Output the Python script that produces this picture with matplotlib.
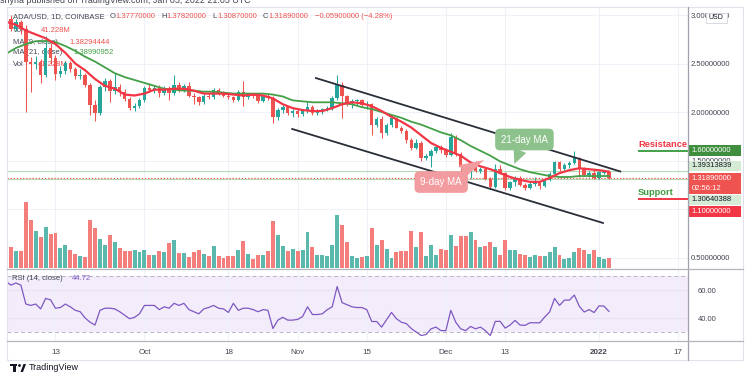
import numpy as np
import pandas as pd
import matplotlib
matplotlib.use("Agg")
import matplotlib.pyplot as plt
from matplotlib.patches import Rectangle, Polygon, Circle

plt.rcParams['font.family'] = ['Liberation Sans', 'DejaVu Sans']

# ADA/USD daily candles (Coinbase), 3 Sep 2021 .. 3 Jan 2022
dates = pd.date_range('2021-09-03', '2022-01-03', freq='D')

opens = [2.88, 2.96, 2.86, 2.93, 2.86, 2.52, 2.49, 2.52, 2.38, 2.66, 2.56, 2.39, 2.42, 2.51, 2.44, 2.37,
         2.38, 2.28, 2.07, 1.99, 2.26, 2.32, 2.22, 2.26, 2.21, 2.13, 2.04, 2.06, 2.12, 2.25, 2.23, 2.25,
         2.20, 2.25, 2.20, 2.28, 2.23, 2.27, 2.17, 2.15, 2.10, 2.17, 2.15, 2.23, 2.20, 2.17, 2.15, 2.12,
         2.21, 2.15, 2.18, 2.16, 2.11, 2.16, 2.14, 1.95, 2.02, 2.05, 1.99, 2.01, 1.98, 2.01, 2.05, 1.99,
         2.01, 2.03, 2.04, 2.14, 2.28, 2.16, 2.09, 2.11, 2.12, 2.07, 2.08, 1.87, 1.93, 1.78, 1.87, 1.94,
         1.84, 1.80, 1.71, 1.63, 1.68, 1.53, 1.55, 1.60, 1.64, 1.61, 1.56, 1.74, 1.57, 1.43, 1.38, 1.43,
         1.39, 1.41, 1.31, 1.23, 1.41, 1.37, 1.22, 1.28, 1.32, 1.25, 1.22, 1.26, 1.27, 1.24, 1.30, 1.36,
         1.48, 1.41, 1.45, 1.47, 1.53, 1.42, 1.35, 1.37, 1.32, 1.375, 1.3777]
highs = [2.99, 3.00, 2.96, 2.95, 2.90, 2.57, 2.58, 2.55, 2.78, 2.71, 2.59, 2.47, 2.53, 2.53, 2.46, 2.44,
         2.40, 2.30, 2.12, 2.28, 2.35, 2.34, 2.40, 2.29, 2.24, 2.15, 2.09, 2.14, 2.27, 2.30, 2.28, 2.28,
         2.27, 2.27, 2.38, 2.31, 2.29, 2.31, 2.20, 2.17, 2.19, 2.20, 2.25, 2.25, 2.22, 2.19, 2.17, 2.23,
         2.32, 2.20, 2.20, 2.17, 2.18, 2.19, 2.16, 2.04, 2.07, 2.06, 2.03, 2.03, 2.03, 2.10, 2.07, 2.03,
         2.04, 2.06, 2.16, 2.38, 2.31, 2.18, 2.13, 2.13, 2.13, 2.11, 2.09, 1.95, 1.96, 1.89, 1.96, 1.95,
         1.86, 1.82, 1.73, 1.72, 1.70, 1.57, 1.62, 1.66, 1.66, 1.63, 1.78, 1.76, 1.59, 1.45, 1.44, 1.50,
         1.43, 1.42, 1.33, 1.46, 1.45, 1.38, 1.29, 1.34, 1.34, 1.27, 1.28, 1.33, 1.28, 1.31, 1.38, 1.50,
         1.50, 1.47, 1.49, 1.60, 1.54, 1.43, 1.39, 1.40, 1.39, 1.40, 1.3782]
lows = [2.84, 2.83, 2.84, 2.80, 2.00, 2.21, 2.44, 2.30, 2.36, 2.50, 2.33, 2.36, 2.39, 2.41, 2.34, 2.34,
        2.26, 1.97, 1.91, 1.97, 2.22, 2.10, 2.19, 2.17, 2.11, 2.02, 2.01, 2.04, 2.10, 2.21, 2.20, 2.15,
        2.18, 2.12, 2.18, 2.21, 2.21, 2.15, 2.08, 2.07, 2.08, 2.13, 2.13, 2.18, 2.15, 2.13, 2.10, 2.11,
        2.06, 2.13, 2.14, 2.09, 2.10, 2.12, 1.89, 1.92, 1.99, 1.97, 1.95, 1.95, 1.96, 1.99, 1.97, 1.97,
        1.98, 2.01, 2.02, 2.12, 1.94, 2.06, 2.04, 2.07, 2.05, 2.03, 1.76, 1.85, 1.73, 1.76, 1.85, 1.83,
        1.78, 1.68, 1.61, 1.62, 1.50, 1.51, 1.43, 1.58, 1.58, 1.54, 1.55, 1.55, 1.27, 1.36, 1.32, 1.38,
        1.37, 1.30, 1.21, 1.22, 1.36, 1.20, 1.20, 1.24, 1.24, 1.20, 1.21, 1.24, 1.21, 1.23, 1.29, 1.34,
        1.39, 1.40, 1.42, 1.46, 1.33, 1.34, 1.33, 1.31, 1.31, 1.36, 1.3087]
closes = [2.96, 2.86, 2.93, 2.86, 2.52, 2.49, 2.52, 2.38, 2.66, 2.56, 2.39, 2.42, 2.51, 2.44, 2.37, 2.38,
          2.28, 2.07, 1.99, 2.26, 2.32, 2.22, 2.26, 2.21, 2.13, 2.04, 2.06, 2.12, 2.25, 2.23, 2.25, 2.20,
          2.25, 2.20, 2.28, 2.23, 2.27, 2.17, 2.15, 2.10, 2.17, 2.15, 2.23, 2.20, 2.17, 2.15, 2.12, 2.21,
          2.15, 2.18, 2.16, 2.11, 2.16, 2.14, 1.95, 2.02, 2.05, 1.99, 2.01, 1.98, 2.01, 2.05, 1.99, 2.01,
          2.03, 2.04, 2.14, 2.28, 2.16, 2.09, 2.11, 2.12, 2.07, 2.08, 1.87, 1.93, 1.78, 1.87, 1.94, 1.84,
          1.80, 1.71, 1.63, 1.68, 1.53, 1.55, 1.60, 1.64, 1.61, 1.56, 1.74, 1.57, 1.43, 1.38, 1.43, 1.39,
          1.41, 1.31, 1.23, 1.41, 1.37, 1.22, 1.28, 1.32, 1.25, 1.22, 1.26, 1.27, 1.24, 1.30, 1.36, 1.48,
          1.41, 1.45, 1.47, 1.53, 1.42, 1.35, 1.37, 1.32, 1.38, 1.378, 1.3189]
# volume in millions
volumes = [82, 87, 70, 70, 272, 198, 152, 128, 169, 140, 144, 82, 95, 74, 58, 49, 45, 198, 165, 119, 95,
           136, 107, 82, 70, 70, 74, 66, 74, 54, 54, 70, 66, 103, 115, 62, 62, 45, 66, 74, 58,
           49, 91, 49, 41, 49, 49, 74, 111, 58, 37, 54, 54, 70, 194, 136, 91, 70, 78, 70, 74,
           148, 87, 54, 54, 49, 95, 218, 177, 107, 49, 41, 45, 49, 165, 95, 115, 78, 41, 66, 70,
           70, 152, 87, 148, 49, 95, 54, 78, 74, 136, 91, 132, 132, 148, 115, 87, 91, 107, 87, 54,
           115, 74, 74, 58, 54, 45, 54, 49, 49, 66, 87, 54, 37, 41, 66, 82, 74, 58, 74, 45, 37, 41.228]
rsi = [66, 63.5, 65, 63.5, 50, 49, 50, 46.5, 54, 53, 47, 47.5, 50, 48, 45.5, 44.5, 40, 37, 35, 45.5, 47,
       47, 46.5, 44.5, 42, 39.5, 40.5, 43, 49, 49, 49, 46, 48, 47, 50.5, 49, 50.5, 46, 44.5, 43, 46.5,
       47.5, 49, 47, 46.5, 44, 50.5, 45.5, 47, 47, 46, 44.5, 46, 45.5, 32.5, 38.5, 40.5, 38.5, 38.5, 39, 41,
       48, 42.5, 42.5, 43, 46, 48, 62.5, 51, 49.5, 48, 47.5, 47.5, 46, 37.5, 37.5, 33.5, 38.8, 44, 39.5, 37,
       36, 32.5, 30, 27.5, 28.2, 32.3, 33.5, 31, 31, 45.5, 37, 32.3, 31, 34, 32.3, 33.5, 31, 27.5, 37.6, 37.6,
       32.8, 35, 38.3, 35, 34.7, 36.6, 36.6, 36.6, 40.7, 44.3, 54, 49, 52.8, 52.8, 56.4, 48.4, 44.3, 46, 43.9,
       48.7, 48.5, 44.72]

# moving averages read every second candle
ma_days = list(range(0, 123, 2))
ma9 = [2.93, 2.90, 2.84, 2.80, 2.76, 2.70, 2.61, 2.50, 2.43, 2.34, 2.27, 2.24, 2.18, 2.17, 2.19, 2.23,
       2.23, 2.24, 2.24, 2.22, 2.19, 2.19, 2.19, 2.18, 2.17, 2.18, 2.17, 2.14, 2.08, 2.04, 2.02, 2.01,
       2.01, 2.04, 2.08, 2.10, 2.09, 2.06, 2.01, 1.95, 1.90, 1.84, 1.76, 1.68, 1.63, 1.59, 1.55, 1.48,
       1.44, 1.41, 1.37, 1.33, 1.30, 1.28, 1.28, 1.32, 1.37, 1.40, 1.42, 1.41, 1.40, 1.385]
ma21 = [2.60, 2.66, 2.70, 2.73, 2.73, 2.72, 2.68, 2.63, 2.57, 2.52, 2.46, 2.40, 2.36, 2.33, 2.30, 2.27,
        2.24, 2.23, 2.22, 2.22, 2.21, 2.21, 2.20, 2.19, 2.19, 2.19, 2.19, 2.18, 2.16, 2.12, 2.11, 2.10,
        2.10, 2.10, 2.09, 2.08, 2.05, 2.03, 2.00, 1.97, 1.94, 1.90, 1.87, 1.83, 1.79, 1.76, 1.71, 1.65,
        1.60, 1.55, 1.49, 1.45, 1.41, 1.38, 1.36, 1.34, 1.33, 1.33, 1.34, 1.34, 1.34, 1.34]

# drawing tools on the chart
resistance = 1.6
support = 1.1
hline_a = 1.39313839
hline_b = 1.30640388
channel_upper = ([62.7, 124.3], [2.350, 1.387])
channel_lower = ([57.9, 120.8], [1.825, 0.856])

price_ticks = [0.5, 1.0, 1.5, 2.0, 2.5, 3.0]
tick_dates = ['2021-09-13', '2021-10-01', '2021-10-18', '2021-11-01', '2021-11-15',
              '2021-12-01', '2021-12-13', '2022-01-01', '2022-01-17']
tick_labels = ['13', 'Oct', '18', 'Nov', '15', 'Dec', '13', '2022', '17']

UP, DOWN = '#26a69a', '#ef5350'
VUP, VDOWN = '#5ab9ac', '#f47e7b'
GRID = '#eef1f7'
TXT = '#434651'

fig = plt.figure(figsize=(7.5, 3.75), dpi=100)
fig.patch.set_facecolor('white')

W, H = 750.0, 375.0
L, R = 7, 688
main_pos = [L / W, 1 - 268 / H, (R - L) / W, 261 / H]
ax_v = fig.add_axes(main_pos)
ax = fig.add_axes(main_pos, sharex=ax_v)
ax_r = fig.add_axes([L / W, 1 - 340 / H, (R - L) / W, 70 / H], sharex=ax_v)
ax.set_zorder(ax_v.get_zorder() + 1)
ax.patch.set_visible(False)

x = np.arange(len(dates))
o, h, l, c = map(np.array, (opens, highs, lows, closes))
up = c >= o
tick_pos = [(pd.Timestamp(t) - dates[0]).days for t in tick_dates]

ax_v.set_xlim(0.19, 138.0)
ax.set_ylim(0.3918, 3.0825)
ax_v.set_ylim(0, 1075)
ax_r.set_ylim(24.3, 74.3)

for a in (ax, ax_v, ax_r):
    for s in a.spines.values():
        s.set_visible(False)

# grid (behind volume)
for t in tick_pos:
    ax_v.axvline(t, color=GRID, lw=0.8, zorder=0)
    ax_r.axvline(t, color=GRID, lw=0.8, zorder=1)
for p in price_ticks:
    yv = ax_v.transData.inverted().transform(ax.transData.transform((0, p)))[1]
    ax_v.axhline(yv, color=GRID, lw=0.8, zorder=0)

ax_v.bar(x, volumes, width=0.8, color=np.where(up, VUP, VDOWN), linewidth=0, zorder=2)
ax_v.set_yticks([])
ax_v.tick_params(axis='x', length=0, labelbottom=False)

# horizontal drawing lines
ax.axhline(hline_a, color='#b5dcb6', lw=0.8, zorder=2)
ax.axhline(hline_b, color='#b5dcb6', lw=0.8, zorder=2)
ax.axhline(c[-1], color='#ef5350', lw=0.9, ls=(0, (1, 1.5)), zorder=2)

# candles
col = np.where(up, UP, DOWN)
ax.vlines(x, l, h, colors=col, lw=0.75, zorder=3)
ax.bar(x, np.maximum(np.abs(c - o), 0.006), bottom=np.minimum(o, c), width=0.7,
       color=col, linewidth=0, zorder=3.5)

ax.plot(ma_days, ma21, color='#43a047', lw=1.3, zorder=4)
ax.plot(ma_days, ma9, color='#f23645', lw=1.6, zorder=4.2)

ax.plot(*channel_upper, color='#2a2e39', lw=1.3, zorder=5)
ax.plot(*channel_lower, color='#2a2e39', lw=1.3, zorder=5)

ax.hlines(resistance, 127.9, 138.0, color='#43a047', lw=1.4, zorder=5)
ax.hlines(support, 127.9, 138.0, color='#f23645', lw=1.4, zorder=5)

ax.yaxis.tick_right()
ax.set_yticks(price_ticks)
ax.set_yticklabels([f'{v:.8f}' for v in price_ticks])
ax.tick_params(axis='y', length=0, pad=2.2, labelsize=5.5, labelcolor=TXT)
ax.tick_params(axis='x', length=0, labelbottom=False)

ax.annotate('21-day MA', xy=(102.85, 1.464), xytext=(104.9, 1.7165), textcoords='data',
            ha='center', va='center', color='white', fontsize=7, zorder=7,
            bbox=dict(boxstyle='round,pad=0.6,rounding_size=0.5', fc='#8dc28d', ec='none'),
            arrowprops=dict(arrowstyle='wedge,tail_width=1.4,shrink_factor=0.5',
                            fc='#8dc28d', ec='none', shrinkA=0, shrinkB=0))
ax.annotate('9-day MA', xy=(96.75, 1.505), xytext=(88.05, 1.278), textcoords='data',
            ha='center', va='center', color='white', fontsize=7, zorder=7,
            bbox=dict(boxstyle='round,pad=0.6,rounding_size=0.5', fc='#f39c9f', ec='none'),
            arrowprops=dict(arrowstyle='wedge,tail_width=1.4,shrink_factor=0.5',
                            fc='#f39c9f', ec='none', shrinkA=0, shrinkB=0))

# legend text (drawn under the candles like on the chart)
def leg(px, py, s, color=TXT):
    ax.text((px - L) / (R - L), 1 - (py - 7) / 261.0, s, transform=ax.transAxes,
            fontsize=5.5, color=color, va='center', ha='left', zorder=1)

leg(13, 17, 'ADA/USD, 1D, COINBASE')
for px, k, v in [(110, 'O', '1.37770000'), (161, 'H', '1.37820000'),
                 (212, 'L', '1.30870000'), (263, 'C', '1.31890000')]:
    leg(px, 17, k)
    leg(px + 5.5, 17, v, '#ef5350')
leg(315, 17, '\u22120.05900000 (\u22124.28%)', '#ef5350')
leg(13, 30, 'Vol')
leg(41, 30, '41.228M', '#ef5350')
leg(13, 42, 'MA (9, close)')
leg(69, 42, '1.38294444', '#ef5350')
leg(13, 53, 'MA (21, close)')
leg(73, 53, '1.38990952', '#43a047')
leg(13, 65, 'Vol')
leg(38, 65, '41.228M', '#ef5350')

# RSI pane
ax_r.axhspan(30, 70, color='#f3edfb', lw=0, zorder=0)
for lev in (40, 60):
    ax_r.axhline(lev, color='#e9e3f3', lw=0.8, zorder=1)
for lev in (30, 70):
    ax_r.axhline(lev, color='#b9b5c9', lw=0.7, ls=(0, (4, 3)), zorder=2)
ax_r.plot(x, rsi, color='#7e57c2', lw=0.9, zorder=3)
ax_r.yaxis.tick_right()
ax_r.set_yticks([40, 60])
ax_r.set_yticklabels(['40.00', '60.00'])
ax_r.tick_params(axis='y', length=0, pad=7, labelsize=5.5, labelcolor=TXT)
ax_r.set_xticks(tick_pos)
ax_r.set_xticklabels(tick_labels)
ax_r.tick_params(axis='x', length=0, pad=6.5, labelsize=5.8, labelcolor=TXT)
for lab in ax_r.get_xticklabels():
    if lab.get_text() == '2022':
        lab.set_fontweight('bold')
ax_r.text(5 / (R - L), 1 - 9 / 70.0, 'RSI (14, close)', transform=ax_r.transAxes,
          fontsize=5.5, color=TXT, va='center')
ax_r.text(65 / (R - L), 1 - 9 / 70.0, '44.72', transform=ax_r.transAxes,
          fontsize=5.5, color='#7e57c2', va='center')

# overlay in pixel coordinates for frame and price-scale boxes
ov = fig.add_axes([0, 0, 1, 1], zorder=20)
ov.set_xlim(0, W)
ov.set_ylim(H, 0)
ov.axis('off')
ov.patch.set_visible(False)


def py(val):
    return H - ax.transData.transform((0, val))[1]


ov.add_patch(Rectangle((7, 7), 736, 353, fill=False, ec='#e0e3eb', lw=0.8))
ov.plot([688, 688], [7, 360], color='#9fa2ab', lw=0.9)
ov.plot([7, 743], [269, 269], color='#b2b5be', lw=0.9)
ov.plot([7, 743], [341, 341], color='#b2b5be', lw=0.9)


def price_box(yc, hgt, lines, bg, fg):
    ov.add_patch(Rectangle((689, yc - hgt / 2), 52, hgt, fc=bg, ec='none'))
    n = len(lines)
    for k, s in enumerate(lines):
        ov.text(691.5, yc + (k - (n - 1) / 2) * 10, s, fontsize=5.5, color=fg,
                va='center', ha='left')


price_box(py(resistance), 11, [f'{resistance:.8f}'], '#3f8f3f', 'white')
price_box(py(hline_a) - 5, 10, [f'{hline_a:.8f}'], '#d6ebd6', '#131722')
price_box(py(c[-1]) + 5, 21, [f'{c[-1]:.8f}', '02:56:12'], '#ef5350', 'white')
price_box(py(hline_b) + 20.5, 10.5, [f'{hline_b:.8f}'], '#d6ebd6', '#131722')
price_box(py(support) + 12, 11, [f'{support:.8f}'], '#f23645', 'white')

ov.add_patch(Rectangle((705.5, 12.5), 21, 10, fc='white', ec='#d1d4dc', lw=0.6))
ov.text(716, 17.7, 'USD', fontsize=5, color='#131722', ha='center', va='center')

ov.text(687, py(resistance) - 6.5, 'Resistance', fontsize=6.7, fontweight='bold',
        color='#f23645', ha='right', va='center')
ov.text(638, py(support) - 7, 'Support', fontsize=6.7, fontweight='bold',
        color='#3d9a40', ha='left', va='center')

# header and footer
ov.text(0, 0.5, 'shyna published on TradingView.com, Jan 03, 2022 21:05 UTC',
        fontsize=6.4, color=TXT, ha='left', va='center')
ov.add_patch(Rectangle((10, 364), 7, 2.2, fc='#131722', ec='none'))
ov.add_patch(Rectangle((13, 364), 3, 8, fc='#131722', ec='none'))
ov.add_patch(Circle((19.5, 365.5), 1.4, fc='#131722', ec='none'))
ov.add_patch(Polygon([[20.5, 372], [23.5, 364], [26, 364], [23, 372]], fc='#131722', ec='none'))
ov.text(29, 368, 'TradingView', fontsize=6.5, color='#131722', ha='left', va='center')

fig.savefig('out.png', dpi=100, facecolor='white')
